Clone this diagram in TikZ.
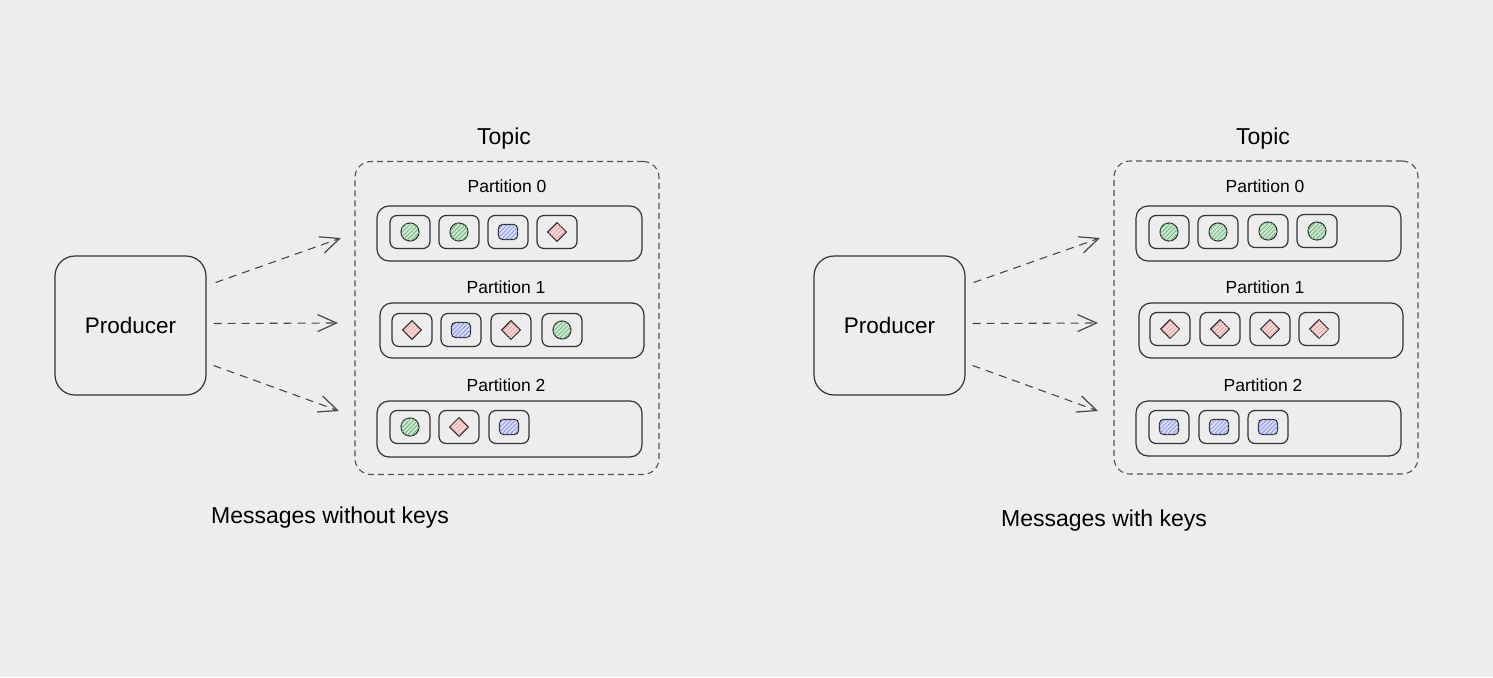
\documentclass[tikz,border=0pt]{standalone}
\usepackage{fontspec}
\setmainfont{Liberation Sans}
\usetikzlibrary{arrows.meta,shapes.geometric,patterns.meta}
\definecolor{bg}{HTML}{EDEDED}
\definecolor{ink}{HTML}{333333}
\definecolor{gfill}{HTML}{CFEAD2}
\definecolor{ghatch}{HTML}{6DB37A}
\definecolor{bfill}{HTML}{D9DDFA}
\definecolor{bhatch}{HTML}{8893E6}
\definecolor{rfill}{HTML}{F9DCDC}
\definecolor{rhatch}{HTML}{EE9A9A}
\tikzset{
  prod/.style={draw=ink, line width=1.2pt, rounded corners=20pt, minimum width=151pt, minimum height=139pt, font=\fontsize{22.5}{26}\selectfont},
  topicbox/.style={draw=ink!85, dash pattern=on 6pt off 4pt, line width=1.1pt, rounded corners=16pt, minimum width=304pt, minimum height=313pt},
  partbox/.style={draw=ink, line width=1.2pt, rounded corners=12pt, minimum width=265pt, minimum height=55pt},
  itembox/.style={draw=ink, line width=1.2pt, rounded corners=7pt, minimum width=40pt, minimum height=33pt},
  hatch/.style={postaction={pattern={Lines[angle=45,distance=3pt,line width=0.8pt]}, pattern color=#1}},
  gmsg/.style={circle, draw=ink!90!black, line width=1.1pt, fill=gfill, hatch=ghatch, minimum size=18pt, inner sep=0pt},
  bmsg/.style={rectangle, rounded corners=4pt, draw=ink!90!black, line width=1.1pt, fill=bfill, hatch=bhatch, minimum width=19pt, minimum height=15pt, inner sep=0pt},
  rmsg/.style={diamond, draw=ink!90!black, line width=1.1pt, fill=rfill, hatch=rhatch, minimum width=19pt, minimum height=19pt, inner sep=0pt},
  flow/.style={draw=ink!90, line width=1.1pt, dash pattern=on 8pt off 6pt, -{Straight Barb[length=19pt,width=17pt,line width=1.2pt]}},
  ttl/.style={font=\fontsize{23}{26}\selectfont},
  plabel/.style={font=\fontsize{17.5}{20}\selectfont},
  captext/.style={font=\fontsize{23}{27}\selectfont},
}
\begin{document}
\begin{tikzpicture}[x=1pt,y=-1pt]
\useasboundingbox[fill=bg] (0,0) rectangle (1493,677);

% ---------- Left: without keys ----------
\node[prod] (pl) at (130.5,325.5) {Producer};
\node[topicbox] (tl) at (507,318) {};
\node[ttl] (tlt) at (504,139) {Topic};

\node[plabel] (lp0t) at (507,186) {Partition 0};
\node[partbox] (lp0) at (509.5,233.5) {};
\node[itembox] (la1) at (410,232) {}; \node[gmsg] (lm1) at (la1) {};
\node[itembox] (la2) at (459,232) {}; \node[gmsg] (lm2) at (la2) {};
\node[itembox] (la3) at (508,232) {}; \node[bmsg] (lm3) at (la3) {};
\node[itembox] (la4) at (557,232) {}; \node[rmsg] (lm4) at (la4) {};

\node[plabel] (lp1t) at (506,287) {Partition 1};
\node[partbox, minimum width=264pt] (lp1) at (512,330.5) {};
\node[itembox] (lb1) at (412,330) {}; \node[rmsg] (ln1) at (lb1) {};
\node[itembox] (lb2) at (461,330) {}; \node[bmsg] (ln2) at (lb2) {};
\node[itembox] (lb3) at (511,330) {}; \node[rmsg] (ln3) at (lb3) {};
\node[itembox] (lb4) at (562,330) {}; \node[gmsg] (ln4) at (lb4) {};

\node[plabel] (lp2t) at (506,385) {Partition 2};
\node[partbox, minimum height=56pt] (lp2) at (509.5,429) {};
\node[itembox] (lc1) at (410,427) {}; \node[gmsg] (lo1) at (lc1) {};
\node[itembox] (lc2) at (459,427) {}; \node[rmsg] (lo2) at (lc2) {};
\node[itembox] (lc3) at (509,427) {}; \node[bmsg] (lo3) at (lc3) {};

\coordinate (le0) at (341,238);
\coordinate (le1) at (338,323);
\coordinate (le2) at (339,411);
\draw[flow] ([shift={(9,-43)}]pl.east) -- (le0);
\draw[flow] ([shift={(7,-2)}]pl.east) -- (le1);
\draw[flow] ([shift={(7,40)}]pl.east) -- (le2);

\node[captext] (lcap) at (330,518) {Messages without keys};

% ---------- Right: with keys ----------
\node[prod] (pr) at (889.5,325.5) {Producer};
\node[topicbox] (tr) at (1266,317.5) {};
\node[ttl] (trt) at (1263,139) {Topic};

\node[plabel] (rp0t) at (1265,186) {Partition 0};
\node[partbox] (rp0) at (1268.5,233.5) {};
\node[itembox] (ra1) at (1169,232) {}; \node[gmsg] (rm1) at (ra1) {};
\node[itembox] (ra2) at (1218,232) {}; \node[gmsg] (rm2) at (ra2) {};
\node[itembox] (ra3) at (1268,231) {}; \node[gmsg] (rm3) at (ra3) {};
\node[itembox] (ra4) at (1317,231) {}; \node[gmsg] (rm4) at (ra4) {};

\node[plabel] (rp1t) at (1265,287) {Partition 1};
\node[partbox, minimum width=264pt] (rp1) at (1271,330.5) {};
\node[itembox] (rb1) at (1170,329) {}; \node[rmsg] (rn1) at (rb1) {};
\node[itembox] (rb2) at (1220,329) {}; \node[rmsg] (rn2) at (rb2) {};
\node[itembox] (rb3) at (1270,329) {}; \node[rmsg] (rn3) at (rb3) {};
\node[itembox] (rb4) at (1319,329) {}; \node[rmsg] (rn4) at (rb4) {};

\node[plabel] (rp2t) at (1263,385) {Partition 2};
\node[partbox] (rp2) at (1268.5,428.5) {};
\node[itembox] (rc1) at (1169,427) {}; \node[bmsg] (ro1) at (rc1) {};
\node[itembox] (rc2) at (1219,427) {}; \node[bmsg] (ro2) at (rc2) {};
\node[itembox] (rc3) at (1268,427) {}; \node[bmsg] (ro3) at (rc3) {};

\coordinate (re0) at (1100,238);
\coordinate (re1) at (1098,323);
\coordinate (re2) at (1098,411);
\draw[flow] ([shift={(8,-43)}]pr.east) -- (re0);
\draw[flow] ([shift={(7,-2)}]pr.east) -- (re1);
\draw[flow] ([shift={(7,40)}]pr.east) -- (re2);

\node[captext] (rcap) at (1104,521) {Messages with keys};
\end{tikzpicture}
\end{document}
